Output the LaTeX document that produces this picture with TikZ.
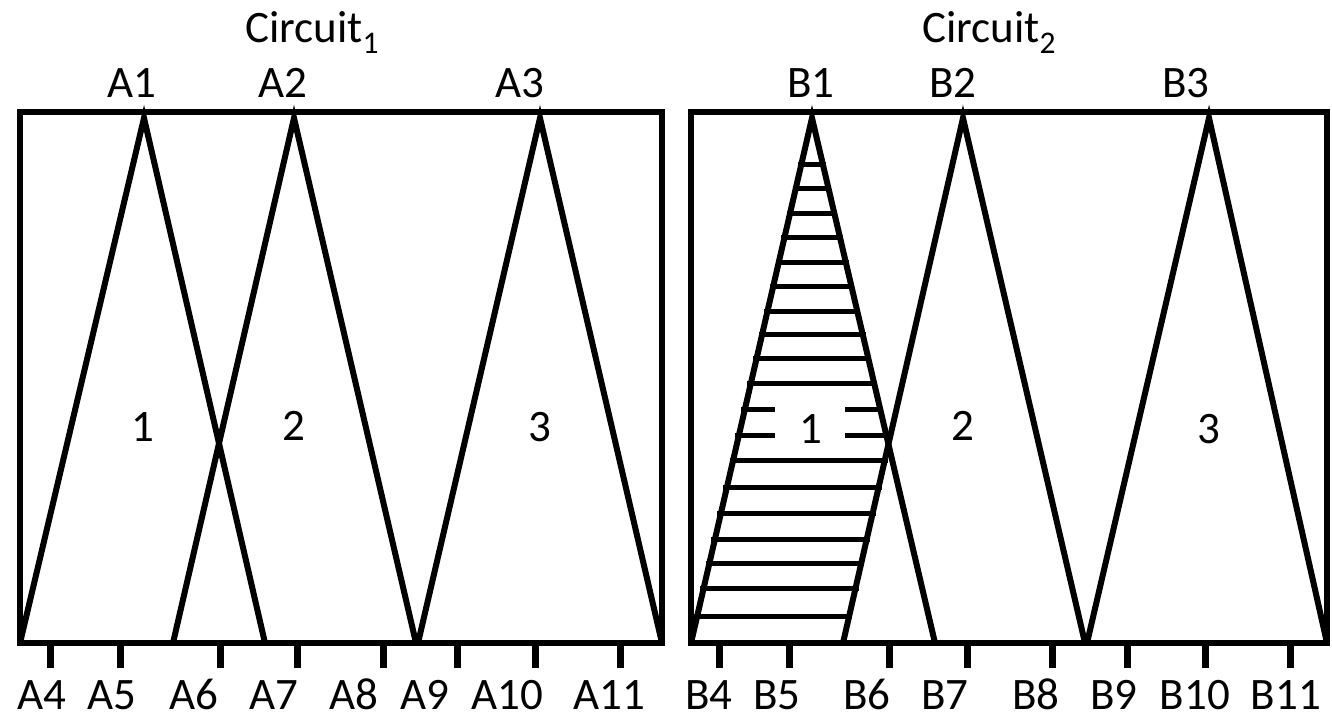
\documentclass[tikz,border=0pt]{standalone}
\usepackage{fontspec}
\setmainfont{Carlito}
\begin{document}
\begin{tikzpicture}[x=1pt,y=-1pt,
  frame/.style={line width=6pt,line join=miter},
  tri/.style={line width=6pt,line join=miter},
  hatch/.style={line width=5pt},
  tick/.style={line width=7pt},
  lbl/.style={font=\fontsize{45}{54}\selectfont,inner sep=0pt,anchor=base},
  title/.style={font=\fontsize{45}{54}\selectfont,inner sep=0pt,anchor=base west}]
\useasboundingbox (0,0) rectangle (1332,717);
% ---------- Circuit 1 ----------
\draw[frame] (20,112) rectangle (662,643);
\coordinate (a1) at (144,118);
\coordinate (a2) at (294,118);
\coordinate (a3) at (540,118);
\draw[tri] (20,643) -- (a1) -- (265,643);
\draw[tri] (173,643) -- (a2) -- (416,643);
\draw[tri] (418,643) -- (a3) -- (662,643);
\node[title] (t1) at (245,42) {Circuit\textsubscript{1}};
\node[lbl] (la1) at (132,97) {A1};
\node[lbl] (la2) at (283,97) {A2};
\node[lbl] (la3) at (520,97) {A3};
\node[lbl] (n11) at (143,441) {1};
\node[lbl] (n12) at (294,440) {2};
\node[lbl] (n13) at (540,441) {3};
\foreach \x/\lx/\t in {50/42/A4,120/112/A5,220/194/A6,297/274/A7,383/354/A8,457/425/A9,535/507/A10,620/609/A11}{
  \coordinate (tk\t) at (\x,646);
  \draw[tick] (tk\t) -- ++(0,22);
  \node[lbl] (l\t) at (\lx,709) {\t};
}
% ---------- Circuit 2 ----------
\draw[frame] (691,112) rectangle (1327,643);
\coordinate (b1) at (812,118);
\coordinate (b2) at (963,118);
\coordinate (b3) at (1209,118);
\draw[tri] (691,643) -- (b1) -- (935,643);
\draw[tri] (843,643) -- (b2) -- (1085,643);
\draw[tri] (1087,643) -- (b3) -- (1327,643);
\foreach \y in {164,188,213,237,262,286,311,334,358,383,460,487,513,539,563,588,616}{
  \pgfmathsetmacro\xl{812-(\y-118)/525*122-3}
  \pgfmathsetmacro\xr{min(812+(\y-118)/525*123,963-(\y-118)/525*120)+3}
  \draw[hatch] (\xl,\y) -- (\xr,\y);
}
\foreach \y in {409,435}{
  \pgfmathsetmacro\xl{812-(\y-118)/525*122-3}
  \pgfmathsetmacro\xr{min(812+(\y-118)/525*123,963-(\y-118)/525*120)+3}
  \draw[hatch] (\xl,\y) -- (775,\y);
  \draw[hatch] (845,\y) -- (\xr,\y);
}
\node[title] (t2) at (922,42) {Circuit\textsubscript{2}};
\node[lbl] (lb1) at (811,97) {B1};
\node[lbl] (lb2) at (953,97) {B2};
\node[lbl] (lb3) at (1186,97) {B3};
\node[lbl] (n21) at (811,443) {1};
\node[lbl] (n22) at (963,440) {2};
\node[lbl] (n23) at (1209,443) {3};
\foreach \x/\lx/\t in {719/709/B4,789/777/B5,889/867/B6,967/945/B7,1052/1036/B8,1127/1114/B9,1205/1195/B10,1290/1286/B11}{
  \coordinate (tk\t) at (\x,646);
  \draw[tick] (tk\t) -- ++(0,22);
  \node[lbl] (l\t) at (\lx,709) {\t};
}
\end{tikzpicture}
\end{document}
